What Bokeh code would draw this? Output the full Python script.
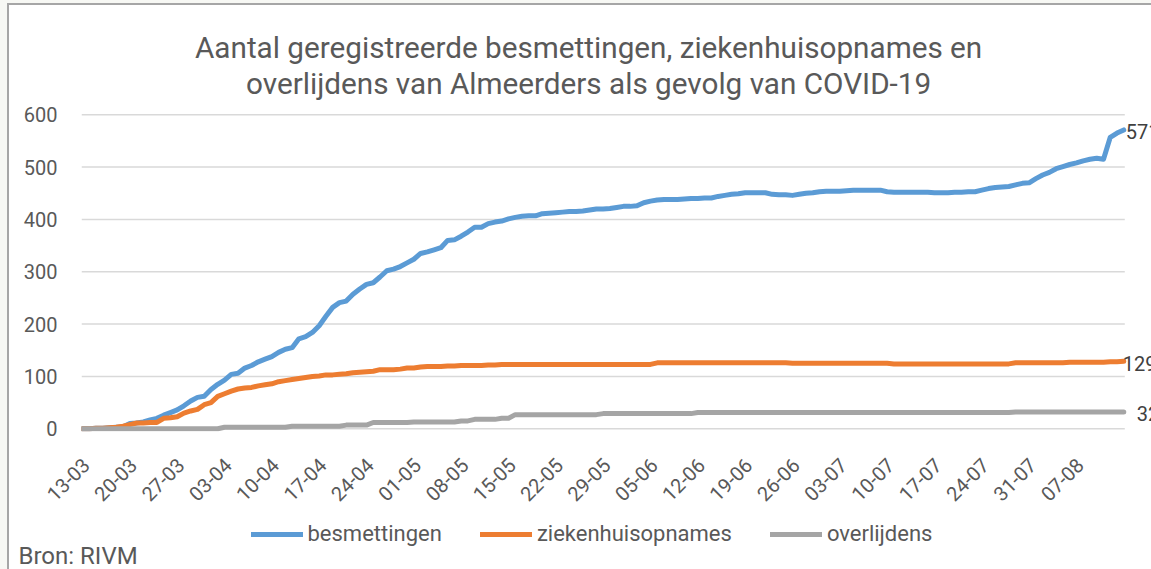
from bokeh.plotting import figure
from bokeh.layouts import column
from bokeh.models import Range1d, FixedTicker, Label, Legend, LegendItem
from bokeh.embed import file_html
from bokeh.resources import INLINE
from math import pi

FONT = "Roboto"
TEXT_GREY = "#595959"

title_lines = ["Aantal geregistreerde besmettingen, ziekenhuisopnames en",
               "overlijdens van Almeerders als gevolg van COVID-19"]
source_text = "Bron: RIVM"

tick_labels = ["13-03", "20-03", "27-03", "03-04", "10-04", "17-04", "24-04", "01-05",
               "08-05", "15-05", "22-05", "29-05", "05-06", "12-06", "19-06", "26-06",
               "03-07", "10-07", "17-07", "24-07", "31-07", "07-08"]
y_ticks = [0, 100, 200, 300, 400, 500, 600]

besmettingen = [0, 0, 1, 1, 2, 3, 4, 10, 11, 13,
                17, 20, 26, 31, 36, 44, 53, 60, 62, 75,
                85, 93, 104, 106, 116, 121, 128, 133, 138, 146,
                152, 155, 172, 176, 184, 197, 215, 232, 241, 244,
                257, 267, 276, 279, 290, 302, 305, 310, 317, 324,
                335, 338, 342, 346, 360, 361, 368, 376, 385, 385,
                392, 395, 397, 401, 404, 406, 407, 407, 411, 412,
                413, 414, 415, 415, 416, 418, 420, 420, 421, 423,
                425, 425, 426, 432, 435, 437, 438, 438, 438, 439,
                440, 440, 441, 441, 444, 446, 448, 449, 451, 451,
                451, 451, 448, 447, 447, 446, 448, 450, 451, 453,
                454, 454, 454, 455, 456, 456, 456, 456, 456, 453,
                452, 452, 452, 452, 452, 452, 451, 451, 451, 452,
                452, 453, 453, 456, 459, 461, 462, 463, 466, 469,
                470, 478, 485, 490, 497, 501, 505, 508, 512, 515,
                517, 515, 557, 565, 571]

ziekenhuisopnames = [0, 0, 1, 1, 2, 3, 5, 8, 11, 11,
                     12, 12, 20, 21, 23, 30, 34, 37, 46, 50,
                     62, 67, 72, 76, 78, 79, 82, 84, 86, 90,
                     92, 94, 96, 98, 100, 101, 103, 103, 104, 105,
                     107, 108, 109, 110, 113, 113, 113, 114, 116, 116,
                     118, 119, 119, 119, 120, 120, 121, 121, 121, 121,
                     122, 122, 123, 123, 123, 123, 123, 123, 123, 123,
                     123, 123, 123, 123, 123, 123, 123, 123, 123, 123,
                     123, 123, 123, 123, 123, 126, 126, 126, 126, 126,
                     126, 126, 126, 126, 126, 126, 126, 126, 126, 126,
                     126, 126, 126, 126, 126, 125, 125, 125, 125, 125,
                     125, 125, 125, 125, 125, 125, 125, 125, 125, 125,
                     124, 124, 124, 124, 124, 124, 124, 124, 124, 124,
                     124, 124, 124, 124, 124, 124, 124, 124, 126, 126,
                     126, 126, 126, 126, 126, 126, 127, 127, 127, 127,
                     127, 127, 128, 128, 129]

overlijdens = [0, 0, 0, 0, 0, 0, 0, 0, 0, 0,
               0, 0, 0, 0, 0, 0, 0, 0, 0, 0,
               0, 3, 3, 3, 3, 3, 3, 3, 3, 3,
               3, 5, 5, 5, 5, 5, 5, 5, 5, 7,
               7, 7, 7, 12, 12, 12, 12, 12, 12, 13,
               13, 13, 13, 13, 13, 13, 15, 15, 18, 18,
               18, 18, 20, 20, 27, 27, 27, 27, 27, 27,
               27, 27, 27, 27, 27, 27, 27, 29, 29, 29,
               29, 29, 29, 29, 29, 29, 29, 29, 29, 29,
               29, 31, 31, 31, 31, 31, 31, 31, 31, 31,
               31, 31, 31, 31, 31, 31, 31, 31, 31, 31,
               31, 31, 31, 31, 31, 31, 31, 31, 31, 31,
               31, 31, 31, 31, 31, 31, 31, 31, 31, 31,
               31, 31, 31, 31, 31, 31, 31, 31, 32, 32,
               32, 32, 32, 32, 32, 32, 32, 32, 32, 32,
               32, 32, 32, 32, 32]

series_names = ["besmettingen", "ziekenhuisopnames", "overlijdens"]
series_values = [besmettingen, ziekenhuisopnames, overlijdens]
colors = ["#5B9BD5", "#ED7D31", "#A5A5A5"]

days = list(range(len(besmettingen)))
label_shift = 0.5  # rotated labels sit just right of their date, as in the original
tick_positions = [i * 7 + label_shift for i in range(len(tick_labels))]

# ---------------- main chart ----------------
p = figure(frame_width=1070, frame_height=431,
           min_border_left=81, min_border_right=0,
           min_border_top=0, min_border_bottom=82,
           x_range=Range1d(-0.15, 158.1),
           y_range=Range1d(-5.2, 818.4),
           output_backend="svg", toolbar_location=None,
           background_fill_alpha=0, border_fill_alpha=0,
           outline_line_color=None, frame_align=False)

p.xgrid.visible = False
p.ygrid.visible = False

# horizontal gridlines spanning the plotted days only
p.segment(x0=[days[0] - 0.15] * len(y_ticks), x1=[days[-1] + 0.15] * len(y_ticks),
          y0=y_ticks, y1=y_ticks, line_color="#D9D9D9", line_width=1.5)

p.yaxis.ticker = FixedTicker(ticks=y_ticks)
p.yaxis.axis_line_color = None
p.yaxis.major_tick_line_color = None
p.yaxis.minor_tick_line_color = None
p.yaxis.major_label_standoff = 18
p.yaxis.major_label_text_font = FONT
p.yaxis.major_label_text_font_size = "20px"
p.yaxis.major_label_text_color = TEXT_GREY

p.xaxis.ticker = FixedTicker(ticks=tick_positions)
p.xaxis.major_label_overrides = {t: lab for t, lab in zip(tick_positions, tick_labels)}
p.xaxis.major_label_orientation = pi / 4
p.xaxis.axis_line_color = None
p.xaxis.major_tick_line_color = None
p.xaxis.minor_tick_line_color = None
p.xaxis.major_label_standoff = 24
p.xaxis.major_label_text_font = FONT
p.xaxis.major_label_text_font_size = "20px"
p.xaxis.major_label_text_color = TEXT_GREY

for name, vals, col in zip(series_names, series_values, colors):
    p.line(days, vals, line_color=col, line_width=5,
           line_cap="round", line_join="round")

# end-of-line data labels
end_offsets = [(2, -2), (-1, -2), (13, -1)]
for vals, (dx, dy) in zip(series_values, end_offsets):
    p.add_layout(Label(x=days[-1], y=vals[-1], text=str(vals[-1]),
                       x_offset=dx, y_offset=dy,
                       text_font=FONT, text_font_size="20px", text_color="#404040",
                       text_align="left", text_baseline="middle"))

# two-line title
title_x = 74.85
title_y = [729.2, 659.2]
for line, ty in zip(title_lines, title_y):
    p.add_layout(Label(x=title_x, y=ty, text=line, text_font=FONT,
                       text_font_size="29.7px", text_color=TEXT_GREY,
                       text_align="center", text_baseline="middle"))

# ---------------- legend + source strip ----------------
strip_h = 56
q = figure(width=1151, height=strip_h,
           min_border_left=0, min_border_right=0, min_border_top=0, min_border_bottom=0,
           x_range=Range1d(0, 1151), y_range=Range1d(strip_h, 0),
           x_axis_type=None, y_axis_type=None,
           output_backend="svg", toolbar_location=None,
           background_fill_alpha=0, border_fill_alpha=0,
           outline_line_color=None, frame_align=False)

legend_renderers = [q.line(x=[float("nan")], y=[float("nan")], line_color=col,
                           line_width=5, line_cap="round")
                    for col in colors]
legend = Legend(items=[LegendItem(label=n, renderers=[r], index=0)
                       for n, r in zip(series_names, legend_renderers)],
                orientation="horizontal", location=(250.5, 23),
                glyph_width=52, glyph_height=24, label_height=24,
                label_standoff=5, spacing=38, padding=0, margin=0,
                border_line_color=None, background_fill_alpha=0,
                label_text_font=FONT, label_text_font_size="22px",
                label_text_color=TEXT_GREY, label_text_baseline="middle")
q.add_layout(legend)

q.add_layout(Label(x=18, y=42, text=source_text, text_font=FONT,
                   text_font_size="24px", text_color=TEXT_GREY,
                   text_align="left", text_baseline="middle"))

# chart-area frame of the original (thin grey edge at left and top), drawn as page background
frame_css = ("linear-gradient(#A6A6A6,#A6A6A6) 7px 3px / 2px 100% no-repeat, "
             "linear-gradient(#A6A6A6,#A6A6A6) 7px 3px / 100% 2px no-repeat, "
             "linear-gradient(#FFFFFF,#FFFFFF) 9px 5px / 100% 100% no-repeat, "
             "#F7F8F4")
layout = column(p, q, spacing=0, styles={"background": frame_css})
open("out.html", "w").write(file_html(layout, INLINE))
